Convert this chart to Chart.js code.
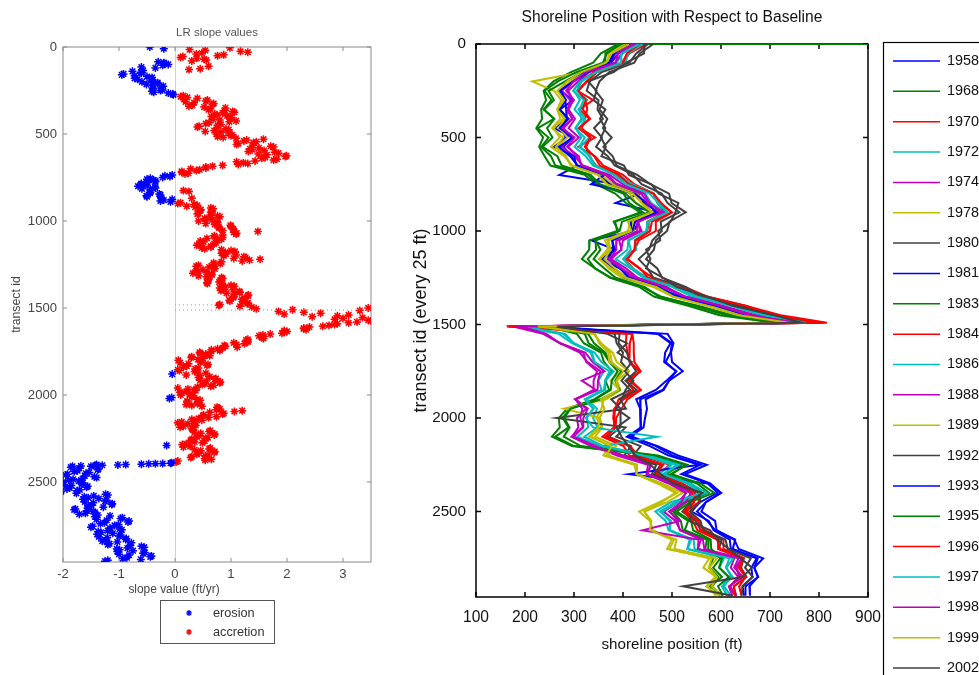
<!DOCTYPE html>
<html><head><meta charset="utf-8">
<script src="https://cdn.jsdelivr.net/npm/chart.js@4.4.1/dist/chart.umd.min.js"></script>
<style>
html,body{margin:0;padding:0;background:#fff;overflow:hidden;width:979px;height:675px}
#c1{position:absolute;left:0;top:0;width:400px;height:675px}
#c2{position:absolute;left:400px;top:0;width:579px;height:675px}
</style></head><body>
<canvas id="c1" width="400" height="675"></canvas>
<canvas id="c2" width="579" height="675"></canvas>
<script>
// ---------- LEFT PANEL DATA: LR slope per transect ----------
// transects 0,10,20,...,2950
const slopeFirstIdA = 0;
const slopeIdStep = 10;
const slopeValuesA = [
-0.45,-0.2,0.54,1.3,0.38,0.76,0.1,0.52,0.3,-0.2,
-0.12,0.6,-0.35,0.25,-0.76,-0.6,-0.95,-0.5,-0.72,-0.4,
-0.59,-0.31,-0.39,-0.24,-0.39,-0.26,-0.38,-0.04,0.15,0.22,
0.16,0.55,0.34,0.67,0.25,0.9,0.6,1.03,0.85,0.75,
0.65,0.98,0.8,0.97,0.55,0.76,0.4,0.91,0.7,0.82,
0.74,1.0,0.86,1.58,1.23,1.4,1.1,1.71,1.5,1.38,
1.31,1.85,1.64,1.97,1.55,1.76,1.1,1.3,0.85,0.55,
0.28,0.38,0.12,0.18,-0.18,-0.22,-0.5,-0.35,-0.5,-0.61,
-0.66,-0.35,-0.44,0.25,-0.45,-0.26,-0.5,0.3,-0.2,-0.08,
0.05,0.4,0.36,0.68,0.45,0.64,0.4,0.76,0.65,0.54,
0.42,0.76,0.71,1.0,0.79,1.04,1.48,1.1,0.85,0.71,
0.57,0.76,0.51,0.7,0.39,0.64,0.53,1.0,0.9,0.91,
0.87,1.26,1.52,1.2,0.69,0.69,0.38,0.7,0.5,0.41,
0.32,0.66,0.56,0.85,0.59,0.79,0.58,1.0,0.9,0.86,
0.82,1.16,1.06,1.3,1.04,1.19,0.98,1.3,0.8,1.16,
3.45,2.1,1.85,2.6,3.1,2.45,3.0,3.45,3.25,2.9,
2.75,2.4,2.3,1.95,1.95,1.7,1.5,1.55,1.3,1.3,
1.05,1.1,0.9,0.85,0.65,0.65,0.45,0.55,0.3,0.5,
0.06,0.45,0.24,0.57,0.15,0.36,0.08,0.4,-0.05,0.45,
0.42,0.71,0.56,0.8,0.49,0.64,0.05,0.34,0.2,0.12,
0.1,0.3,-0.1,0.45,0.22,0.4,0.3,0.75,0.8,1.2,
0.62,0.85,0.5,0.6,0.3,0.35,0.05,0.35,0.15,0.3,
0.32,0.61,0.46,0.7,0.39,0.54,0.28,0.35,0.2,-0.15,
0.15,0.61,0.46,0.7,0.39,0.54,0.28,0.65,0.05,-0.06,
-1.4,-1.5,-1.71,-1.38,-1.8,-1.59,-1.95,-1.44,-1.65,-1.9,
-2.0,-1.67,-1.85,-1.58,-1.93,-1.75,-2.05,-1.24,-1.45,-1.55,
-1.64,-1.25,-1.46,-1.13,-1.55,-1.56,-1.8,-1.46,-1.6,-1.38,
-1.43,-0.97,-1.22,-0.84,-1.33,-1.08,-1.5,-0.99,-1.2,-1.32,
-1.39,-1.0,-1.21,-0.88,-1.3,-0.78,-1.2,-0.6,-0.85,-0.99,
-1.03,-0.57,-0.82,-0.44,-0.93,-1.2
];
// transects 5,15,25,...,2955
const slopeFirstIdB = 5;
const slopeValuesB = [
0.98,0.26,1.17,0.48,0.87,0.14,0.39,0.56,-0.3,-0.19,
-0.22,-0.6,0.45,-0.57,-0.61,-0.92,-0.72,-0.41,-0.67,-0.43,
-0.31,-0.51,-0.21,-0.4,-0.23,-0.41,-0.12,-0.03,0.1,0.4,
0.58,0.19,0.69,0.31,0.52,0.63,0.89,1.06,0.71,0.93,
1.0,0.68,1.09,0.61,0.82,0.43,0.75,0.96,0.54,0.96,
1.02,0.76,1.09,1.28,1.45,1.13,1.39,1.76,1.34,1.59,
1.78,1.49,1.99,1.61,1.82,1.43,1.22,1.13,0.67,0.55,
0.44,0.12,0.24,-0.05,-0.09,-0.44,-0.38,-0.35,-0.6,-0.5,
-0.36,-0.59,0.15,-0.44,-0.28,-0.51,-0.25,-0.05,-0.26,0.1,
0.34,0.21,0.64,0.46,0.66,0.42,0.63,0.8,0.53,0.66,
0.75,0.55,0.99,0.78,1.04,0.85,1.05,1.09,0.7,0.85,
0.83,0.45,0.73,0.43,0.64,0.48,0.83,1.07,0.83,1.09,
1.23,1.05,1.33,0.83,0.81,0.42,0.61,0.71,0.38,0.57,
0.65,0.42,0.83,0.6,0.81,0.57,0.85,1.06,0.8,1.04,
1.15,0.92,1.31,1.05,1.24,0.97,1.21,1.29,0.78,1.37,
1.45,3.3,2.3,1.95,2.9,3.35,2.85,3.5,3.1,2.85,
2.64,2.3,2.34,2.0,1.91,1.57,1.57,1.58,1.27,1.3,
1.24,0.88,1.11,0.76,0.8,0.44,0.55,0.62,0.29,0.41,
0.48,0.09,0.59,0.21,0.42,0.05,0.35,0.55,0.2,0.62,
0.73,0.45,0.81,0.53,0.69,0.4,0.23,0.37,0.09,0.26,
0.32,-0.06,0.39,0.22,0.41,0.2,0.48,0.77,0.74,1.06,
0.87,0.51,0.74,0.42,0.48,0.12,0.23,0.37,0.09,0.31,
0.63,0.35,0.71,0.43,0.59,0.3,0.53,0.49,0.13,0.27,
0.63,0.35,0.71,0.43,0.59,0.3,0.53,0.54,0.02,-0.35,
-1.42,-1.86,-1.37,-1.74,-1.53,-1.92,-1.61,-1.4,-1.82,-1.72,
-1.65,-1.98,-1.56,-1.88,-1.7,-2.03,-1.76,-1.2,-1.62,-1.36,
-1.22,-1.61,-1.12,-1.49,-1.28,-1.78,-1.57,-1.43,-1.71,-1.16,
-0.94,-1.4,-0.82,-1.26,-1.01,-1.47,-1.16,-0.95,-1.37,-1.11,
-0.97,-1.36,-0.87,-1.24,-1.03,-1.17,-0.8,-0.55,-1.04,-0.75,
-0.54,-1.0,-0.42,-0.86,-0.61,-1.25
];
// blue trail of points near transect 2400
const trailIds    = [2392,2394,2396,2398,2400,2402,2404,2406,2408,2410];
const trailSlopes = [-0.08,-0.22,-0.47,-0.6,-0.88,-1.02,-1.3,-1.42,-1.68,-1.83];
// dotted reference rows
const dottedIds  = [1482, 1512];
const dottedEnds = [0.77, 3.5];
const slopeLegend = ['erosion', 'accretion'];
const slopeTicks = [-2, -1, 0, 1, 2, 3];
const transectTicks = [0, 500, 1000, 1500, 2000, 2500];
const shoreTicks = [100, 200, 300, 400, 500, 600, 700, 800, 900];

// ---------- RIGHT PANEL DATA: shoreline position per transect, by year ----------
const shoreIds = [0,50,100,150,200,250,300,350,400,450,500,550,600,650,700,750,800,850,900,950,
1000,1050,1100,1150,1200,1250,1300,1350,1400,1450,1490,
1510,1550,1600,1650,1700,1750,1800,1850,1900,
1950,2000,2050,2100,2150,2200,2250,2300,2350,2400,
2450,2500,2550,2600,2650,2700,2750,2800,2850,2900,2950];
const years = ['1958','1968','1970','1972','1974','1978','1980','1981','1983','1984','1986','1988','1989','1992','1993','1995','1996','1997','1998','1999','2002'];
const start1968 = {id: 0, pos: 905};

const s1958 = [423,391,376,326,296,273,298,271,287,260,296,279,294,307,270,389,434,385,470,432,422,335,385,355,393,421,488,519,592,662,798, 235,491,503,498,500,522,494,483,446, 449,445,442,414,471, 512,571,527,578,600, 569,560,588,591,627,636, 686,668,675,658,659];
const s1968 = [390,355,339,294,258,238,243,233,235,223,237,229,240,252,322,345,384,406,435,384,388,332,331,316,343,374,434,463,533,597,709, 242,306,320,355,361,378,364,372,341, 286,269,271,255,296, 460,520,488,538,561, 525,502,518,522,571,568, 584,577,595,582,600];
const s1970 = [448,413,400,347,325,307,339,311,331,312,343,309,343,360,400,423,463,473,500,467,467,432,424,408,433,461,527,571,649,722,816, 163,419,422,422,423,436,412,436,409, 397,386,385,365,414, 431,496,471,520,556, 554,528,553,567,605,605, 647,636,650,637,642];
const s1972 = [433,399,387,331,311,300,312,301,318,303,315,301,324,339,387,406,445,458,486,450,449,411,409,385,416,443,501,540,622,685,766, 186,269,296,337,342,361,350,356,323, 339,326,329,307,355, 443,499,473,532,559, 498,466,487,493,539,532, 606,597,616,603,612];
const s1974 = [425,385,374,327,300,275,292,287,297,279,295,275,301,318,369,387,428,444,472,431,435,387,386,373,398,417,481,525,598,661,750, 175,237,272,319,325,347,340,340,303, 325,306,309,296,338, 388,451,448,496,529, 513,483,507,517,559,553, 627,620,635,618,629];
const s1978 = [406,371,370,317,215,259,274,266,279,258,271,253,280,296,351,370,414,426,459,415,410,363,373,353,371,398,462,502,577,639,732, 216,340,355,374,377,396,375,393,361, 356,346,356,334,373, 360,423,428,478,511, 474,433,455,459,504,495, 576,564,590,576,589];
const s1980 = [451,427,413,357,332,326,350,348,359,341,357,345,369,383,421,438,479,491,515,477,479,460,453,432,450,462,520,556,630,686,766, 244,383,387,400,396,412,397,415,376, 395,395,395,371,416, 403,468,459,510,537, 538,521,548,559,601,596, 646,641,652,626,631];
const s1981 = [410,382,374,320,284,273,282,284,285,275,283,260,300,305,355,373,426,441,459,416,417,378,383,360,379,405,471,513,584,645,740, 237,471,497,486,484,509,489,467,427, 435,436,437,408,455, 492,556,412,573,593, 557,540,575,585,618,620, 673,662,664,644,647];
const s1983 = [394,367,359,305,267,240,254,238,259,226,248,233,253,262,329,348,401,413,441,381,391,344,345,328,343,376,440,477,545,611,715, 249,322,330,360,372,389,377,375,343, 291,277,289,262,300, 463,527,500,551,575, 529,504,533,526,575,574, 599,584,602,578,603];
const s1984 = [436,409,398,341,313,307,324,327,322,316,333,325,331,345,389,416,462,470,487,450,455,426,423,402,421,443,513,567,640,704,803, 175,407,406,409,414,435,407,421,391, 384,382,382,358,401, 413,482,467,512,542, 545,524,542,552,592,598, 644,632,637,619,629];
const s1986 = [440,411,405,345,316,306,327,309,323,312,331,313,332,341,391,419,463,471,489,453,455,424,427,400,420,450,515,549,627,697,781, 200,278,300,342,356,381,364,361,326, 347,339,348,321,360, 451,514,483,537,571, 514,479,495,496,544,546, 625,611,621,606,620];
const s1988 = [428,398,384,330,308,288,298,289,302,289,310,288,305,317,373,400,443,454,477,430,438,400,396,376,406,430,487,527,603,671,765, 188,241,271,323,338,362,316,345,302, 328,319,319,299,346, 401,457,450,501,539, 528,496,511,516,563,566, 642,630,640,617,632];
const s1989 = [418,378,372,326,294,269,279,266,281,269,287,264,282,296,356,380,430,438,461,420,422,370,375,362,384,408,467,502,579,650,748, 227,342,355,379,387,412,387,395,366, 280,353,358,343,386, 370,428,428,480,522, 490,444,457,459,509,505, 592,576,592,581,601];
const s1992 = [462,434,423,372,352,344,359,352,368,359,377,360,379,387,429,456,494,499,528,495,490,467,463,447,470,480,529,560,639,704,786, 259,393,391,408,414,427,405,428,394, 406,265,405,386,436, 421,477,463,519,555, 558,536,558,563,609,614, 661,649,665,644,642];
const s1993 = [414,380,372,330,298,271,284,271,289,271,298,269,292,308,362,335,425,448,469,425,419,378,380,369,394,412,473,509,590,653,758, 221,473,500,497,487,508,494,481,435, 436,435,436,419,467, 501,558,519,575,600, 569,551,572,588,629,624, 675,668,676,650,650];
const s1995 = [398,364,364,316,282,248,259,239,260,245,256,236,266,275,334,353,405,426,454,398,393,344,354,340,362,385,445,473,553,623,724, 252,329,341,364,373,397,384,393,354, 293,280,291,279,314, 471,531,497,558,586, 537,510,539,543,579,580, 602,596,616,594,604];
const s1996 = [434,408,400,347,327,309,324,318,333,309,334,322,341,353,392,412,462,478,499,459,455,425,424,409,435,451,513,570,651,709,809, 166,419,414,413,413,433,417,436,401, 382,380,384,366,416, 423,480,470,521,547, 545,529,553,558,595,594, 645,639,651,626,629];
const s1997 = [433,397,396,346,312,298,320,311,315,303,322,311,333,343,381,406,454,472,491,451,447,411,416,401,416,442,509,550,619,687,773, 198,282,299,334,341,373,363,364,322, 340,324,339,469,358, 440,510,482,531,559, 507,475,498,495,536,531, 617,610,624,602,613];
const s1998 = [419,390,385,324,299,284,300,286,296,276,301,286,310,315,364,387,437,451,482,429,429,392,397,370,397,426,489,524,597,658,756, 189,244,271,312,327,354,349,348,303, 317,313,318,295,335, 399,457,449,493,528, 519,494,516,440,554,553, 636,627,645,616,623];
const s1999 = [412,377,365,315,286,266,280,266,272,255,278,263,284,293,348,366,420,438,458,410,417,370,368,351,376,405,469,502,570,636,739, 226,343,351,370,372,401,386,391,355, 362,352,350,331,377, 366,429,427,470,507, 480,443,458,455,500,490, 581,575,588,570,595];
const s2002 = [444,443,407,381,329,346,340,364,353,364,355,365,356,402,412,458,473,513,507,497,472,476,447,456,447,482,510,572,624,709,764, 266,368,408,389,418,404,421,405,398, 386,413,387,397,411, 425,456,477,502,562, 536,541,535,578,592,616, 640,663,644,523,624];
const shoreSeries = [s1958,s1968,s1970,s1972,s1974,s1978,s1980,s1981,s1983,s1984,s1986,s1988,s1989,s1992,s1993,s1995,s1996,s1997,s1998,s1999,s2002];

// ---------- styles ----------
const lineCycle = ['#0000ff','#008000','#ff0000','#00bfbf','#bf00bf','#bfbf00','#404040'];

function hasFont(name){
  const c = document.createElement('canvas').getContext('2d');
  const t = 'abcdefghijklmnopqrstuvwxyz0123456789 ABCDEFG';
  c.font = '40px monospace'; const w1 = c.measureText(t).width;
  c.font = '40px "' + name + '", monospace'; const w2 = c.measureText(t).width;
  return Math.abs(w1 - w2) > 0.5;
}
const NARROW = hasFont('Liberation Sans Narrow');
const FAM = NARROW ? '"Liberation Sans Narrow", "Liberation Sans", Arial, sans-serif' : '"Liberation Sans", Arial, sans-serif';
const WIDE = '"Liberation Sans", Arial, sans-serif';
const fs = s => NARROW ? s : Math.round(s * 0.82 * 10) / 10;

Chart.defaults.font.family = FAM;

const setTicks = list => (s => { s.ticks = list.map(v => ({value: v})); });
const plainLabel = v => String(v);

// plugin: frame + inward ticks + free texts
const framePlugin = {
  id: 'frame',
  beforeDatasetsDraw(chart, args, o) {
    const {ctx, chartArea: a} = chart;
    ctx.save();
    ctx.strokeStyle = o.color; ctx.lineWidth = o.width;
    ctx.strokeRect(a.left, a.top, a.right - a.left, a.bottom - a.top);
    ctx.beginPath();
    const xs = chart.scales.x, ys = chart.scales.y;
    xs.ticks.forEach(t => {
      const px = xs.getPixelForValue(t.value);
      ctx.moveTo(px, a.bottom); ctx.lineTo(px, a.bottom - o.len);
      ctx.moveTo(px, a.top); ctx.lineTo(px, a.top + o.len);
    });
    ys.ticks.forEach(t => {
      const py = ys.getPixelForValue(t.value);
      ctx.moveTo(a.left, py); ctx.lineTo(a.left + o.len, py);
      ctx.moveTo(a.right, py); ctx.lineTo(a.right - o.len, py);
    });
    ctx.stroke();
    ctx.restore();
  },
  afterDraw(chart, args, o) {
    const {ctx, chartArea: a} = chart;
    ctx.save();
    (o.texts || []).forEach(t => {
      ctx.font = t.font; ctx.fillStyle = t.color;
      ctx.textAlign = 'center'; ctx.textBaseline = 'middle';
      const x = t.x === 'center' ? (a.left + a.right) / 2 : t.x;
      ctx.fillText(t.text, x, t.y);
    });
    ctx.restore();
    if (o.legend) o.legend(chart);
  }
};

// ---------- LEFT CHART ----------
const erosionPts = [], accretionPts = [];
function addSlopes(vals, firstId) {
  vals.forEach((v, i) => {
    const p = {x: v, y: firstId + i * slopeIdStep};
    (v < 0 ? erosionPts : accretionPts).push(p);
  });
}
addSlopes(slopeValuesA, slopeFirstIdA);
addSlopes(slopeValuesB, slopeFirstIdB);
trailIds.forEach((id, i) => erosionPts.push({x: trailSlopes[i], y: id}));

function drawStar(ctx, x, y, r, color) {
  ctx.save(); ctx.strokeStyle = color; ctx.lineWidth = 1.2; ctx.beginPath();
  ctx.moveTo(x - r, y); ctx.lineTo(x + r, y); ctx.moveTo(x, y - r); ctx.lineTo(x, y + r);
  const d = r * 0.7;
  ctx.moveTo(x - d, y - d); ctx.lineTo(x + d, y + d); ctx.moveTo(x - d, y + d); ctx.lineTo(x + d, y - d);
  ctx.stroke(); ctx.restore();
}

new Chart(document.getElementById('c1'), {
  type: 'scatter',
  data: {
    datasets: [
      {label: 'dot1', data: [{x: 0, y: dottedIds[0]}, {x: dottedEnds[0], y: dottedIds[0]}], showLine: true, borderColor: '#9a9a9a', borderWidth: 1, borderDash: [1, 3], pointRadius: 0},
      {label: 'dot2', data: [{x: 0, y: dottedIds[1]}, {x: dottedEnds[1], y: dottedIds[1]}], showLine: true, borderColor: '#9a9a9a', borderWidth: 1, borderDash: [1, 3], pointRadius: 0},
      {label: slopeLegend[0], data: erosionPts, pointStyle: 'star', pointRadius: 4, borderWidth: 1.5, borderColor: '#0000ff', backgroundColor: '#0000ff'},
      {label: slopeLegend[1], data: accretionPts, pointStyle: 'star', pointRadius: 4, borderWidth: 1.5, borderColor: '#ff0000', backgroundColor: '#ff0000'}
    ]
  },
  options: {
    responsive: false, animation: false, events: [],
    layout: {padding: {left: 0, top: 47, right: 29, bottom: 75}},
    plugins: {
      legend: {display: false}, tooltip: {enabled: false},
      frame: {
        color: '#8a8a8a', width: 1, len: 4,
        texts: [
          {text: 'LR slope values', x: 'center', y: 33, font: fs(14) + 'px ' + FAM, color: '#555'},
          {text: 'slope value (ft/yr)', x: 174, y: 590, font: fs(14.5) + 'px ' + FAM, color: '#444'}
        ],
        legend(chart) {
          const ctx = chart.ctx;
          ctx.save();
          ctx.strokeStyle = '#555'; ctx.lineWidth = 1;
          ctx.strokeRect(160.5, 600.5, 114, 43);
          drawStar(ctx, 189, 613, 3, '#0000ff');
          drawStar(ctx, 189, 632, 3, '#ff0000');
          ctx.fillStyle = '#333'; ctx.font = fs(15.5) + 'px ' + FAM;
          ctx.textAlign = 'left'; ctx.textBaseline = 'middle';
          ctx.fillText(slopeLegend[0], 213, 613);
          ctx.fillText(slopeLegend[1], 213, 632);
          ctx.restore();
        }
      }
    },
    scales: {
      x: {
        type: 'linear', min: -2, max: 3.5,
        afterBuildTicks: setTicks(slopeTicks),
        ticks: {padding: 5, color: '#444', font: {size: fs(16)}, callback: plainLabel},
        grid: {drawTicks: false, lineWidth: 1, color: c => (c.tick && c.tick.value === 0) ? '#d2d2d2' : 'rgba(0,0,0,0)'},
        border: {display: false},
        afterFit(s) { s.height = 38; }
      },
      y: {
        type: 'linear', reverse: true, min: 0, max: 2960,
        afterBuildTicks: setTicks(transectTicks),
        ticks: {padding: 6, color: '#444', font: {size: fs(16)}, callback: plainLabel},
        grid: {display: false, drawTicks: false},
        border: {display: false},
        title: {display: true, text: 'transect id', color: '#444', font: {size: fs(15)}, padding: {top: 17 - 0.6 * fs(15), bottom: 0}},
        afterFit(s) { s.width = 63; }
      }
    }
  },
  plugins: [framePlugin]
});

// ---------- RIGHT CHART ----------
const shoreDatasets = years.map((yr, i) => {
  const pts = shoreIds.map((id, k) => ({x: shoreSeries[i][k], y: id}));
  if (yr === '1968') pts.unshift({x: start1968.pos, y: start1968.id});
  return {
    label: yr, data: pts, showLine: true, pointRadius: 0, borderWidth: 2,
    borderColor: lineCycle[i % 7], backgroundColor: lineCycle[i % 7],
    order: years.length - i, tension: 0
  };
});

new Chart(document.getElementById('c2'), {
  type: 'scatter',
  data: {datasets: shoreDatasets},
  options: {
    responsive: false, animation: false, events: [],
    layout: {padding: {left: 0, top: 44, right: 111, bottom: 15}},
    plugins: {
      legend: {display: false}, tooltip: {enabled: false},
      frame: {
        color: '#000', width: 1.5, len: 5,
        texts: [
          {text: 'Shoreline Position with Respect to Baseline', x: 'center', y: 18, font: fs(19) + 'px ' + FAM, color: '#111'}
        ],
        legend(chart) {
          const ctx = chart.ctx;
          ctx.save();
          ctx.strokeStyle = '#000'; ctx.lineWidth = 1.2;
          ctx.strokeRect(483.5, 42.5, 200, 700);
          ctx.font = fs(17.5) + 'px ' + FAM; ctx.textAlign = 'left'; ctx.textBaseline = 'middle';
          chart.data.datasets.forEach((ds, i) => {
            const y = 61 + i * 30.35;
            ctx.strokeStyle = ds.borderColor; ctx.lineWidth = 1.5;
            ctx.beginPath(); ctx.moveTo(493, y); ctx.lineTo(540, y); ctx.stroke();
            ctx.fillStyle = '#111';
            ctx.fillText(ds.label, 547, y);
          });
          ctx.restore();
        }
      }
    },
    scales: {
      x: {
        type: 'linear', min: 100, max: 900,
        afterBuildTicks: setTicks(shoreTicks),
        ticks: {padding: 11, color: '#111', font: {size: fs(19)}, callback: plainLabel},
        grid: {display: false, drawTicks: false},
        border: {display: false},
        title: {display: true, text: 'shoreline position (ft)', color: '#111', font: {size: fs(18.5)}, padding: {top: 0, bottom: 15 - 0.6 * fs(18.5)}},
        afterFit(s) { s.height = 63; }
      },
      y: {
        type: 'linear', reverse: true, min: 0, max: 2957,
        afterBuildTicks: setTicks(transectTicks),
        ticks: {padding: 10, color: '#111', font: {size: fs(18.5)}, callback: plainLabel},
        grid: {display: false, drawTicks: false},
        border: {display: false},
        title: {display: true, text: 'transect id (every 25 ft)', color: '#111', font: {family: WIDE, size: 18}, padding: {top: 21 - 0.6 * 18, bottom: 0}},
        afterFit(s) { s.width = 76; }
      }
    }
  },
  plugins: [framePlugin]
});
</script>
</body></html>
